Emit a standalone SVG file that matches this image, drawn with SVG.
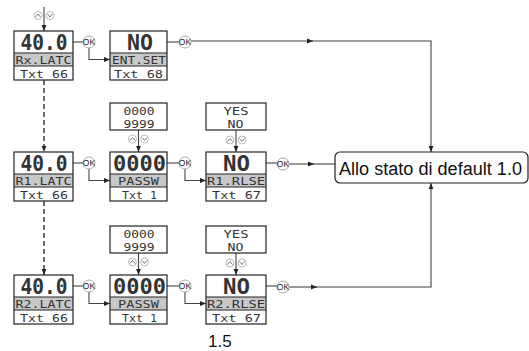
<svg xmlns="http://www.w3.org/2000/svg" width="529" height="351" viewBox="0 0 529 351">
<style>
.box{fill:#fff;stroke:#222;stroke-width:1.2}
.frame{fill:none;stroke:#222;stroke-width:1.2}
.gray{fill:#c8c8c8;stroke:none}
.sep{stroke:#222;stroke-width:1}
.val{font-family:"DejaVu Sans Mono",monospace;font-weight:bold;font-size:20.5px;fill:#333;text-anchor:middle}
.lab{font-family:"DejaVu Sans Mono",monospace;font-size:10.5px;fill:#333;text-anchor:middle}
.ok{fill:#fff;stroke:#aaa;stroke-width:1}
.okt{font-family:"Liberation Sans",Arial,sans-serif;font-size:8.5px;fill:#222;text-anchor:middle}
.ic{fill:#fff;stroke:#aaa;stroke-width:0.8}
.chev{fill:none;stroke:#666;stroke-width:0.9}
.ln{fill:none;stroke:#444;stroke-width:1.1}
.dash{fill:none;stroke:#333;stroke-width:1.4;stroke-dasharray:5 3}
.big{font-family:"Liberation Sans",Arial,sans-serif;font-size:18px;fill:#111}
</style>
<defs>
<marker id="ah" viewBox="0 0 10 10" refX="10" refY="5" markerWidth="6" markerHeight="6" markerUnits="userSpaceOnUse" orient="auto">
<path d="M0,1 L10,5 L0,9 z" fill="#222"/>
</marker>
<g id="updown">
<circle class="ic" cx="-6" cy="0" r="4"/>
<polyline class="chev" points="-8.5,1.5 -6,-1.5 -3.5,1.5"/>
<circle class="ic" cx="6" cy="0" r="4"/>
<polyline class="chev" points="3.5,-1.5 6,1.5 8.5,-1.5"/>
</g>
</defs>

<g id="connectors">
<path class="ln" d="M44,7 V31" marker-end="url(#ah)"/>
<path class="ln" d="M73,42 H83"/>
<path class="ln" d="M89,48 V59.5 H110" marker-end="url(#ah)"/>
<path class="ln" d="M167,42 H179"/>
<path class="ln" d="M191,41 H313" marker-end="url(#ah)"/>
<path class="ln" d="M312,41 H431 V152" marker-end="url(#ah)"/>
<path class="dash" d="M44,80 V152" marker-end="url(#ah)"/>
<path class="dash" d="M44,201 V275" marker-end="url(#ah)"/>
<path class="ln" d="M73,163 H83"/>
<path class="ln" d="M89,169 V180.5 H110" marker-end="url(#ah)"/>
<path class="ln" d="M138.5,130 V152" marker-end="url(#ah)"/>
<path class="ln" d="M167,163 H179"/>
<path class="ln" d="M185,169 V180.5 H206" marker-end="url(#ah)"/>
<path class="ln" d="M236,130 V152" marker-end="url(#ah)"/>
<path class="ln" d="M266,163 H277"/>
<path class="ln" d="M289,164 H314" marker-end="url(#ah)"/>
<path class="ln" d="M313,164 H335"/>
<path class="ln" d="M73,286 H83"/>
<path class="ln" d="M89,292 V303.5 H110" marker-end="url(#ah)"/>
<path class="ln" d="M138.5,253 V275" marker-end="url(#ah)"/>
<path class="ln" d="M167,286 H179"/>
<path class="ln" d="M185,292 V303.5 H206" marker-end="url(#ah)"/>
<path class="ln" d="M236,253 V275" marker-end="url(#ah)"/>
<path class="ln" d="M266,286 H277"/>
<path class="ln" d="M289,287 H317" marker-end="url(#ah)"/>
<path class="ln" d="M316,287 H431 V183" marker-end="url(#ah)"/>
</g>

<g id="icons">
<use href="#updown" x="44" y="15.5"/>
<use href="#updown" x="138.5" y="139"/>
<use href="#updown" x="236" y="140"/>
<use href="#updown" x="138.5" y="262"/>
<use href="#updown" x="236" y="263"/>
</g>

<g id="ok-buttons">
<circle class="ok" cx="89" cy="42" r="6"/><text class="okt" x="89" y="45">OK</text>
<circle class="ok" cx="185" cy="42" r="6"/><text class="okt" x="185" y="45">OK</text>
<circle class="ok" cx="89" cy="163" r="6"/><text class="okt" x="89" y="166">OK</text>
<circle class="ok" cx="185" cy="163" r="6"/><text class="okt" x="185" y="166">OK</text>
<circle class="ok" cx="283" cy="164" r="6"/><text class="okt" x="283" y="167">OK</text>
<circle class="ok" cx="89" cy="286" r="6"/><text class="okt" x="89" y="289">OK</text>
<circle class="ok" cx="185" cy="286" r="6"/><text class="okt" x="185" y="289">OK</text>
<circle class="ok" cx="283" cy="287" r="6"/><text class="okt" x="283" y="290">OK</text>
</g>

<g id="n-rx-latc">
<rect class="gray" x="14" y="53" width="59" height="13"/>
<rect class="frame" x="14" y="31" width="59" height="49"/>
<line class="sep" x1="14" y1="53" x2="73" y2="53"/><line class="sep" x1="14" y1="66" x2="73" y2="66"/>
<text class="val" x="44" y="49.5" textLength="47" lengthAdjust="spacingAndGlyphs">40.0</text>
<text class="lab" x="43.5" y="64" textLength="56" lengthAdjust="spacingAndGlyphs">Rx.LATC</text>
<text class="lab" x="44" y="77.5" textLength="48" lengthAdjust="spacingAndGlyphs">Txt 66</text>
</g>

<g id="n-ent-set">
<rect class="gray" x="110" y="53" width="57" height="13"/>
<rect class="frame" x="110" y="31" width="57" height="49"/>
<line class="sep" x1="110" y1="53" x2="167" y2="53"/><line class="sep" x1="110" y1="66" x2="167" y2="66"/>
<text class="val" x="140" y="49.5" textLength="26" lengthAdjust="spacingAndGlyphs">NO</text>
<text class="lab" x="139" y="64" textLength="54" lengthAdjust="spacingAndGlyphs">ENT.SET</text>
<text class="lab" x="138.5" y="77.5" textLength="49" lengthAdjust="spacingAndGlyphs">Txt 68</text>
</g>

<g id="n-r1-latc">
<rect class="gray" x="14" y="174" width="59" height="13"/>
<rect class="frame" x="14" y="152" width="59" height="49"/>
<line class="sep" x1="14" y1="174" x2="73" y2="174"/><line class="sep" x1="14" y1="187" x2="73" y2="187"/>
<text class="val" x="44" y="170.5" textLength="47" lengthAdjust="spacingAndGlyphs">40.0</text>
<text class="lab" x="43.5" y="185" textLength="56" lengthAdjust="spacingAndGlyphs">R1.LATC</text>
<text class="lab" x="44" y="198.5" textLength="48" lengthAdjust="spacingAndGlyphs">Txt 66</text>
</g>

<g id="r1-range">
<rect class="box" x="110" y="103" width="57" height="27"/>
<text class="lab" x="139" y="114.5" textLength="31" lengthAdjust="spacingAndGlyphs">0000</text>
<text class="lab" x="139" y="127.5" textLength="31" lengthAdjust="spacingAndGlyphs">9999</text>
</g>

<g id="n-r1-passw">
<rect class="gray" x="110" y="174" width="57" height="13"/>
<rect class="frame" x="110" y="152" width="57" height="49"/>
<line class="sep" x1="110" y1="174" x2="167" y2="174"/><line class="sep" x1="110" y1="187" x2="167" y2="187"/>
<text class="val" x="139.5" y="170.5" textLength="53" lengthAdjust="spacingAndGlyphs">0000</text>
<text class="lab" x="138.5" y="185" textLength="41" lengthAdjust="spacingAndGlyphs">PASSW</text>
<text class="lab" x="139.5" y="198.5" textLength="35" lengthAdjust="spacingAndGlyphs">Txt 1</text>
</g>

<g id="r1-yesno">
<rect class="box" x="206" y="103" width="60" height="27"/>
<text class="lab" x="236" y="114.5" textLength="25" lengthAdjust="spacingAndGlyphs">YES</text>
<text class="lab" x="235.5" y="127.5" textLength="16" lengthAdjust="spacingAndGlyphs">NO</text>
</g>

<g id="n-r1-rlse">
<rect class="gray" x="206" y="174" width="60" height="13"/>
<rect class="frame" x="206" y="152" width="60" height="49"/>
<line class="sep" x1="206" y1="174" x2="266" y2="174"/><line class="sep" x1="206" y1="187" x2="266" y2="187"/>
<text class="val" x="236.5" y="170.5" textLength="27" lengthAdjust="spacingAndGlyphs">NO</text>
<text class="lab" x="236" y="185" textLength="58" lengthAdjust="spacingAndGlyphs">R1.RLSE</text>
<text class="lab" x="236.5" y="198.5" textLength="49" lengthAdjust="spacingAndGlyphs">Txt 67</text>
</g>

<g id="n-r2-latc">
<rect class="gray" x="14" y="297" width="59" height="13"/>
<rect class="frame" x="14" y="275" width="59" height="49"/>
<line class="sep" x1="14" y1="297" x2="73" y2="297"/><line class="sep" x1="14" y1="310" x2="73" y2="310"/>
<text class="val" x="44" y="293.5" textLength="47" lengthAdjust="spacingAndGlyphs">40.0</text>
<text class="lab" x="43.5" y="308" textLength="56" lengthAdjust="spacingAndGlyphs">R2.LATC</text>
<text class="lab" x="44" y="321.5" textLength="48" lengthAdjust="spacingAndGlyphs">Txt 66</text>
</g>

<g id="r2-range">
<rect class="box" x="110" y="226" width="57" height="27"/>
<text class="lab" x="139" y="237.5" textLength="31" lengthAdjust="spacingAndGlyphs">0000</text>
<text class="lab" x="139" y="250.5" textLength="31" lengthAdjust="spacingAndGlyphs">9999</text>
</g>

<g id="n-r2-passw">
<rect class="gray" x="110" y="297" width="57" height="13"/>
<rect class="frame" x="110" y="275" width="57" height="49"/>
<line class="sep" x1="110" y1="297" x2="167" y2="297"/><line class="sep" x1="110" y1="310" x2="167" y2="310"/>
<text class="val" x="139.5" y="293.5" textLength="53" lengthAdjust="spacingAndGlyphs">0000</text>
<text class="lab" x="138.5" y="308" textLength="41" lengthAdjust="spacingAndGlyphs">PASSW</text>
<text class="lab" x="139.5" y="321.5" textLength="35" lengthAdjust="spacingAndGlyphs">Txt 1</text>
</g>

<g id="r2-yesno">
<rect class="box" x="206" y="226" width="60" height="27"/>
<text class="lab" x="236" y="237.5" textLength="25" lengthAdjust="spacingAndGlyphs">YES</text>
<text class="lab" x="235.5" y="250.5" textLength="16" lengthAdjust="spacingAndGlyphs">NO</text>
</g>

<g id="n-r2-rlse">
<rect class="gray" x="206" y="297" width="60" height="13"/>
<rect class="frame" x="206" y="275" width="60" height="49"/>
<line class="sep" x1="206" y1="297" x2="266" y2="297"/><line class="sep" x1="206" y1="310" x2="266" y2="310"/>
<text class="val" x="236.5" y="293.5" textLength="27" lengthAdjust="spacingAndGlyphs">NO</text>
<text class="lab" x="236" y="308" textLength="58" lengthAdjust="spacingAndGlyphs">R2.RLSE</text>
<text class="lab" x="236.5" y="321.5" textLength="49" lengthAdjust="spacingAndGlyphs">Txt 67</text>
</g>

<g id="n-default">
<rect x="335" y="152" width="193" height="31" rx="5" ry="5" fill="#fff" stroke="#222" stroke-width="1.2"/>
<text class="big" x="339" y="175" textLength="183" lengthAdjust="spacingAndGlyphs">Allo stato di default 1.0</text>
</g>

<text class="big" x="208" y="347" style="font-size:17px">1.5</text>
</svg>
